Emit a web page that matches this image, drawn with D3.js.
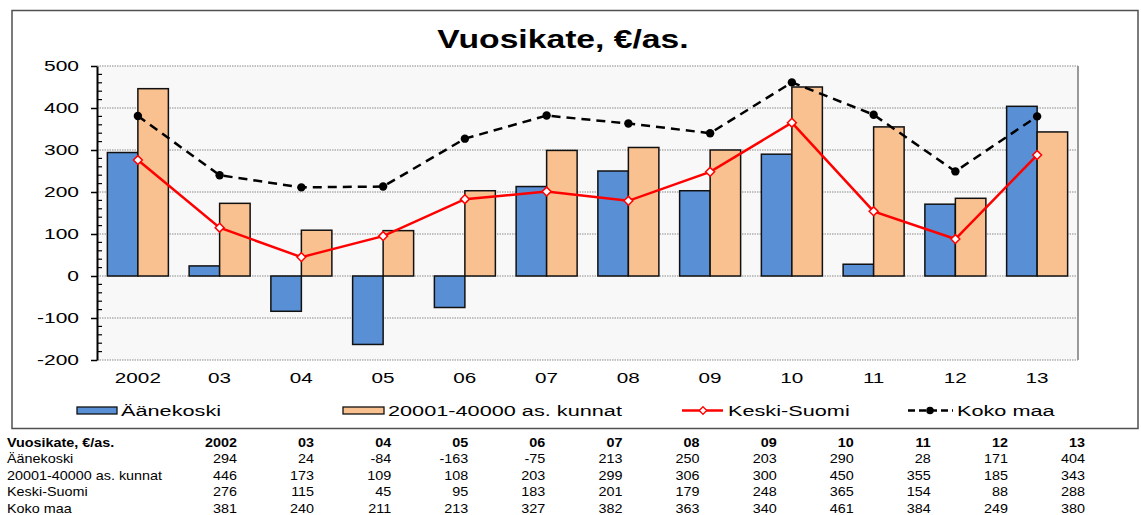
<!DOCTYPE html>
<html>
<head>
<meta charset="utf-8">
<script src="https://cdn.jsdelivr.net/npm/d3@7"></script>
<style>
  body { margin: 0; background: #fff; }
  svg { display: block; font-family: "Liberation Sans", Arial, sans-serif; }
</style>
</head>
<body>
<div id="chart"></div>
<script>
// data
const categories = ["2002", "03", "04", "05", "06", "07", "08", "09", "10", "11", "12", "13"];
const aanekoski = [294, 24, -84, -163, -75, 213, 250, 203, 290, 28, 171, 404];
const kunnat = [446, 173, 109, 108, 203, 299, 306, 300, 450, 355, 185, 343];
const keskiSuomi = [276, 115, 45, 95, 183, 201, 179, 248, 365, 154, 88, 288];
const kokoMaa = [381, 240, 211, 213, 327, 382, 363, 340, 461, 384, 249, 380];
const seriesNames = ["Äänekoski", "20001-40000 as. kunnat", "Keski-Suomi", "Koko maa"];
const yTicks = [-200, -100, 0, 100, 200, 300, 400, 500];
const title = "Vuosikate, €/as.";

const width = 1141, height = 515;
const plot = { left: 97, right: 1078, top: 66, bottom: 360 };
const blue = "#588fd5", orange = "#f9c190";

const svg = d3.select("#chart").append("svg")
  .attr("width", width)
  .attr("height", height);

// the original picture is stretched sideways, so text gets a scaleX
const stext = (g, x, y, txt, size, sx, anchor = "start", weight = "normal") =>
  g.append("text")
    .attr("transform", `translate(${x},${y}) scale(${sx},1)`)
    .attr("text-anchor", anchor)
    .attr("font-size", size)
    .attr("font-weight", weight)
    .attr("fill", "#000")
    .text(txt);

// outer frame
svg.append("rect")
  .attr("x", 12).attr("y", 10.5)
  .attr("width", 1126).attr("height", 418)
  .attr("fill", "#fff")
  .attr("stroke", "#505050")
  .attr("stroke-width", 1.5);

const x0 = d3.scaleBand().domain(categories).range([plot.left, plot.right]);
const x1 = d3.scaleBand().domain([0, 1]).range([0, x0.bandwidth()]).paddingOuter(0.34);
const y = d3.scaleLinear().domain([-200, 500]).range([plot.bottom, plot.top]);
const cx = (c) => x0(c) + x0.bandwidth() / 2;

// plot background
svg.append("rect")
  .attr("x", plot.left).attr("y", plot.top)
  .attr("width", plot.right - plot.left).attr("height", plot.bottom - plot.top)
  .attr("fill", "#f8f8f8");

// gridlines
svg.append("g")
  .selectAll("line")
  .data(yTicks)
  .join("line")
  .attr("x1", plot.left).attr("x2", plot.right)
  .attr("y1", (d) => y(d)).attr("y2", (d) => y(d))
  .attr("stroke", "#8a8a8a")
  .attr("stroke-width", 1.2)
  .attr("stroke-dasharray", "1.5,1");

svg.append("line")
  .attr("x1", plot.right).attr("x2", plot.right)
  .attr("y1", plot.top).attr("y2", plot.bottom)
  .attr("stroke", "#999")
  .attr("stroke-width", 2);

// bars
const barData = [aanekoski, kunnat];
const barColors = [blue, orange];
barData.forEach((vals, s) => {
  svg.append("g")
    .selectAll("rect")
    .data(vals)
    .join("rect")
    .attr("x", (d, i) => x0(categories[i]) + x1(s))
    .attr("width", x1.bandwidth())
    .attr("y", (d) => y(Math.max(0, d)))
    .attr("height", (d) => Math.abs(y(d) - y(0)))
    .attr("fill", barColors[s])
    .attr("stroke", "#111")
    .attr("stroke-width", 1.5);
});

// y axis
const yAxis = svg.append("g")
  .attr("transform", `translate(${plot.left},0)`)
  .call(d3.axisLeft(y).tickValues(yTicks).tickSize(6).tickSizeOuter(0).tickFormat((d) => d));
yAxis.select(".domain").attr("stroke", "#000").attr("stroke-width", 2);
yAxis.selectAll(".tick line").attr("stroke", "#000").attr("stroke-width", 1.5);
yAxis.selectAll(".tick text")
  .attr("x", null)
  .attr("font-size", 15)
  .attr("font-family", "Liberation Sans, Arial, sans-serif")
  .attr("fill", "#000")
  .attr("transform", "translate(-18,0) scale(1.4,1)");

// minor ticks, inside
svg.append("g")
  .selectAll("line")
  .data(d3.range(-200, 500, 20).filter((d) => d % 100 !== 0))
  .join("line")
  .attr("x1", plot.left).attr("x2", plot.left + 5)
  .attr("y1", (d) => y(d)).attr("y2", (d) => y(d))
  .attr("stroke", "#000")
  .attr("stroke-width", 1.2);

// x labels
const xl = svg.append("g");
categories.forEach((c) => stext(xl, cx(c), 383, c, 15, 1.38, "middle"));

// lines
const line = d3.line().x((d, i) => cx(categories[i])).y((d) => y(d));

svg.append("path")
  .datum(kokoMaa)
  .attr("d", line)
  .attr("fill", "none")
  .attr("stroke", "#000")
  .attr("stroke-width", 2.5)
  .attr("stroke-dasharray", "9,6");
svg.append("g")
  .selectAll("circle")
  .data(kokoMaa)
  .join("circle")
  .attr("cx", (d, i) => cx(categories[i]))
  .attr("cy", (d) => y(d))
  .attr("r", 4.2)
  .attr("fill", "#000");

svg.append("path")
  .datum(keskiSuomi)
  .attr("d", line)
  .attr("fill", "none")
  .attr("stroke", "#ff0000")
  .attr("stroke-width", 2.5);
const diamond = d3.symbol().type(d3.symbolDiamond2).size(50);
svg.append("g")
  .selectAll("path")
  .data(keskiSuomi)
  .join("path")
  .attr("d", diamond)
  .attr("transform", (d, i) => `translate(${cx(categories[i])},${y(d)})`)
  .attr("fill", "#fff")
  .attr("stroke", "#ff0000")
  .attr("stroke-width", 1.5);

// title
stext(svg, 563, 48, title, 25.5, 1.32, "middle", "bold");

// legend
const lg = svg.append("g");
const legY = 410.5;
lg.append("rect").attr("x", 77).attr("y", legY - 3.5).attr("width", 40).attr("height", 7)
  .attr("fill", blue).attr("stroke", "#111").attr("stroke-width", 1.3);
stext(lg, 121, 416, seriesNames[0], 15.5, 1.4);
lg.append("rect").attr("x", 343).attr("y", legY - 3.5).attr("width", 41).attr("height", 7)
  .attr("fill", orange).attr("stroke", "#111").attr("stroke-width", 1.3);
stext(lg, 388, 416, seriesNames[1], 15.5, 1.4);
lg.append("line").attr("x1", 682).attr("x2", 723).attr("y1", legY).attr("y2", legY)
  .attr("stroke", "#ff0000").attr("stroke-width", 2.5);
lg.append("path").attr("d", d3.symbol().type(d3.symbolDiamond2).size(36))
  .attr("transform", `translate(703,${legY})`)
  .attr("fill", "#fff").attr("stroke", "#ff0000").attr("stroke-width", 1.3);
stext(lg, 728, 416, seriesNames[2], 15.5, 1.4);
lg.append("line").attr("x1", 908).attr("x2", 953).attr("y1", legY).attr("y2", legY)
  .attr("stroke", "#000").attr("stroke-width", 2.5).attr("stroke-dasharray", "7,4");
lg.append("circle").attr("cx", 930).attr("cy", legY).attr("r", 3.8).attr("fill", "#000");
stext(lg, 957, 416, seriesNames[3], 15.5, 1.4);

// table under the chart
const tx = d3.scalePoint().domain(categories).range([237, 1085]);
const rowY = [446.5, 463, 479.5, 496, 512.5];
const tab = svg.append("g");
const tsx = 1.15, tfs = 12.5;
stext(tab, 7, rowY[0], title, tfs, tsx, "start", "bold");
categories.forEach((c) => stext(tab, tx(c), rowY[0], c, tfs, tsx, "end", "bold"));
[aanekoski, kunnat, keskiSuomi, kokoMaa].forEach((vals, r) => {
  stext(tab, 7, rowY[r + 1], seriesNames[r], tfs, tsx);
  vals.forEach((v, i) => stext(tab, tx(categories[i]), rowY[r + 1], v, tfs, tsx, "end"));
});
</script>
</body>
</html>
